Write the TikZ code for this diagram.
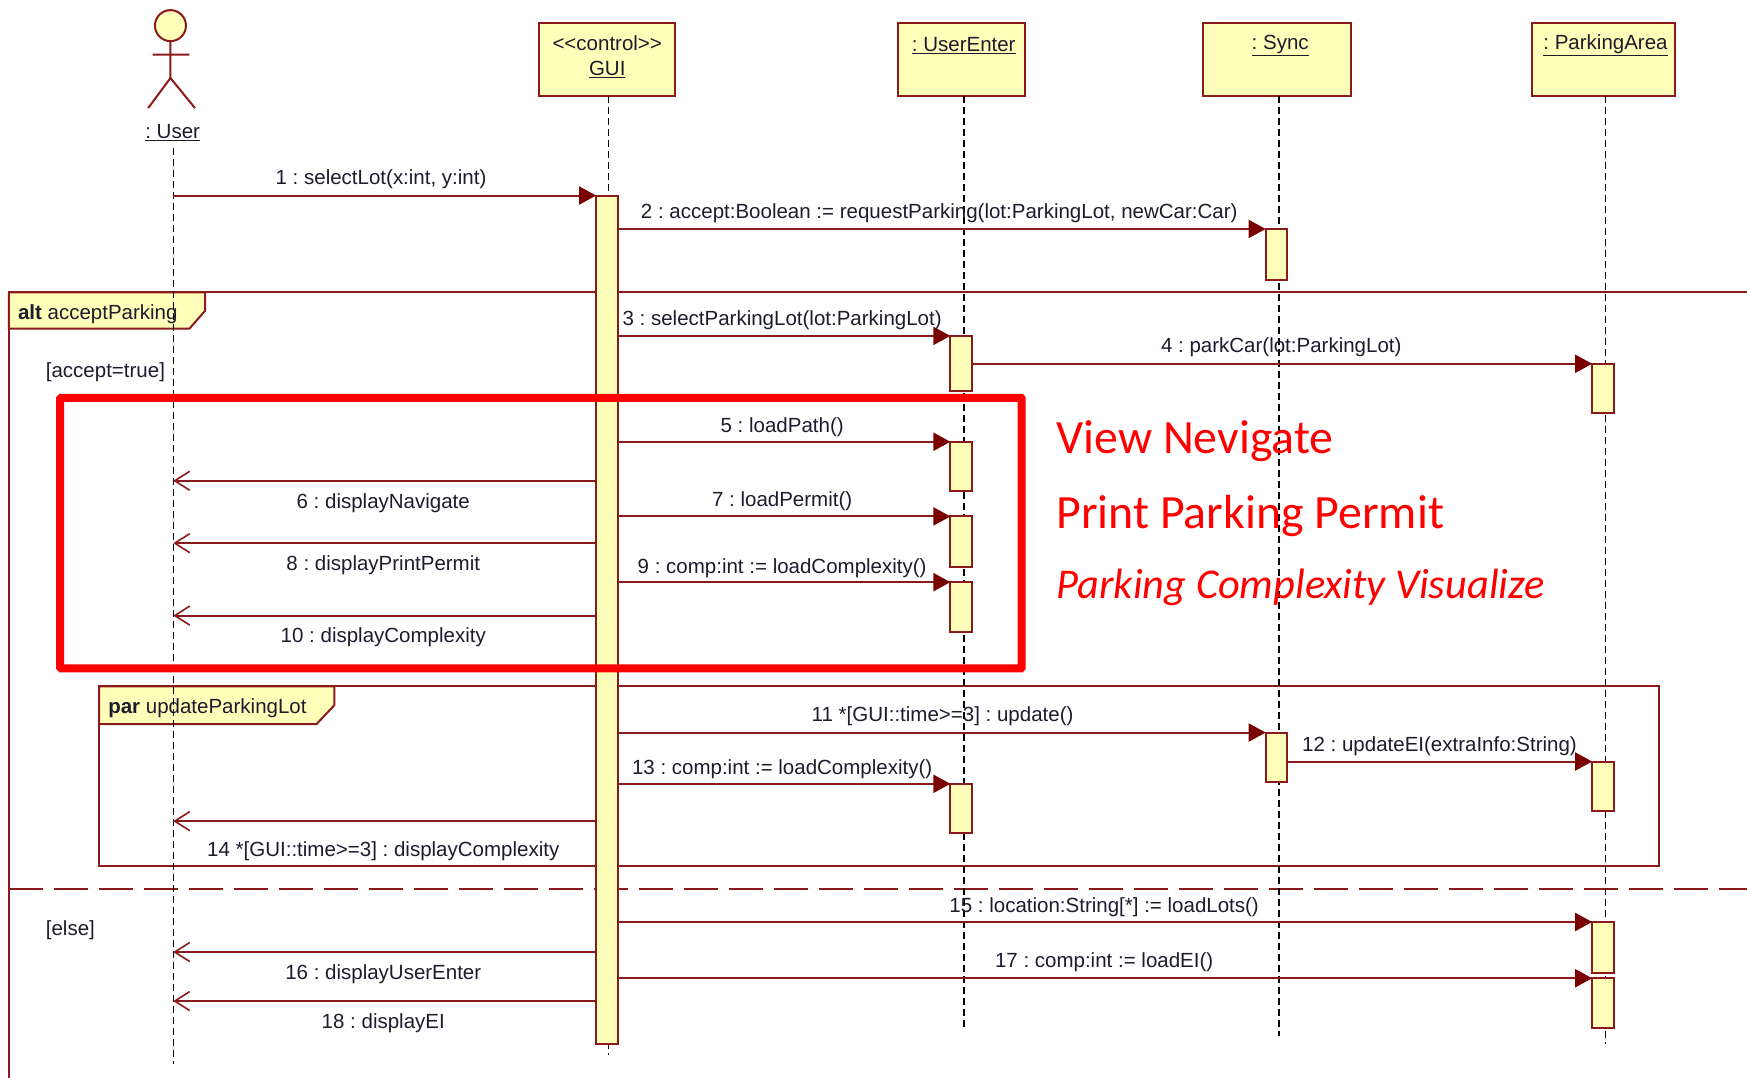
\documentclass[tikz,border=0pt]{standalone}
\usepackage{fontspec}
\setmainfont{Liberation Sans}
\newfontfamily\notefont{Carlito}
\usetikzlibrary{arrows.meta,positioning}
\frenchspacing
\definecolor{umlline}{HTML}{8B1A1A}
\definecolor{umltip}{HTML}{7A0000}
\definecolor{umlfill}{HTML}{FFFFB9}
\definecolor{umltext}{HTML}{1C1C2C}
\tikzset{umlfont/.style={font=\fontsize{20.5}{24}\selectfont,text=umltext}}
\tikzset{lifeline/.style={black,line width=1.5pt,dash pattern=on 7pt off 4pt}}
\tikzset{umlbox/.style={draw=umlline,fill=umlfill,line width=2pt,inner sep=0pt,outer sep=0pt,umlfont}}
\tikzset{actbox/.style={umlbox}}
\tikzset{frameline/.style={draw=umlline,line width=2pt}}
\tikzset{msg/.style={umlline,line width=2pt,-{Triangle[length=17pt,width=18pt,color=umltip]}}}
\tikzset{ret/.style={umlline,line width=2pt,-{Straight Barb[length=15pt,width=19pt,line width=1.6pt]}}}
\tikzset{msglabel/.style={umlfont,inner sep=0pt}}
\tikzset{notetext/.style={text=red,anchor=west,inner sep=0pt}}

\begin{document}
\begin{tikzpicture}[x=1.1142pt,y=-1.1142pt]
  \useasboundingbox (0,0) rectangle (1568,967.5);
  % alt and par frames
  \draw[frameline] (8,968) -- (8,262.5) -- (1568,262.5);
  \draw[frameline,fill=umlfill] (8,262.5) -- (184,262.5) -- (184,279) -- (170,295) -- (8,295) -- cycle;
  \draw[frameline,dash pattern=on 34pt off 11pt] (8,797.5) -- (1568,797.5);
  \draw[frameline] (89,616) rectangle (1489,777);
  \draw[frameline,fill=umlfill] (89,616) -- (300,616) -- (300,633) -- (284,650) -- (89,650) -- cycle;
  \node[msglabel,anchor=west] (altlabel) at (16,282) {\textbf{alt} acceptParking};
  \node[msglabel,anchor=west] (parlabel) at (97,636) {\textbf{par} updateParkingLot};
  \node[msglabel,anchor=west] (guardtrue) at (41,334) {[accept=true]};
  \node[msglabel,anchor=west] (guardelse) at (41,835) {[else]};
  % heads
  \foreach \nm/\xa/\xb in {gui/484/606,userenter/806/920,sync/1080/1213,parking/1375/1503}
    \node[umlbox,minimum height=72.4pt,minimum width={(\xb-\xa)*1.1142pt}] (\nm) at ({(\xa+\xb)/2},53.5) {};
  \node[msglabel,align=center] (guitext) at (545,51) {<{}<control>{}>\\[1pt]\underline{GUI}};
  \node[msglabel] (uetext) at (865,41) {\underline{: UserEnter}};
  \node[msglabel] (synctext) at (1149,41) {\underline{: Sync}};
  \node[msglabel] (patext) at (1441,41) {\underline{: ParkingArea}};
  % actor
  \node[circle,draw=umlline,fill=umlfill,line width=2pt,minimum size=31pt,inner sep=0pt] (head) at (153,23) {};
  \coordinate (hip) at (153,70);
  \coordinate (armL) at (137,49);
  \coordinate (armR) at (170,49);
  \coordinate (footL) at (133,97);
  \coordinate (footR) at (175,97);
  \draw[umlline,line width=2pt] (head.south) -- (hip) -- (footL) (hip) -- (footR) (armL) -- (armR);
  \node[msglabel] (usertext) at (155,119) {\underline{: User}};
  % lifelines
  \coordinate (userTop) at (155.5,133);
  \coordinate (userEnd) at (155.5,955);
  \draw[lifeline] (userTop) -- (userEnd);
  \foreach \nm/\x/\yend in {gui/546/947,userenter/865/925,sync/1148/930,parking/1441/937}
    \draw[lifeline] (\x,86) -- (\x,\yend);
  % activations
  \foreach \nm/\xa/\ya/\yb in {aG/535/175.5/937,aS1/1136/205.5/251,aU1/853/301.5/351,aP1/1429/326.5/371,
      aU2/853/396.5/441,aU3/853/463.5/509,aU4/853/522.5/567,aS2/1136/657.5/702,aP2/1429/683.5/728,
      aU5/853/703.5/748,aP3/1429/827.5/873,aP4/1429/878/923}
    \node[actbox,minimum width=21.5pt,minimum height={(\yb-\ya)*1.1142pt},anchor=north west] (\nm) at (\xa,\ya) {};
  % calls
  \draw[msg] (userTop |- aG.north west) -- (aG.north west);
  \node[msglabel] (t1) at (342,161) {1 : selectLot(x:int, y:int)};
  \foreach \src/\tgt/\lx/\ly/\txt in {aG/aS1/843/191/{2 : accept:Boolean := requestParking(lot:ParkingLot, newCar:Car)},
      aG/aU1/702/287/{3 : selectParkingLot(lot:ParkingLot)},
      aU1/aP1/1150/312/{4 : parkCar(lot:ParkingLot)},
      aG/aU2/702/383/{5 : loadPath()},
      aG/aU3/702/450/{7 : loadPermit()},
      aG/aU4/702/510/{9 : comp:int := loadComplexity()},
      aG/aS2/846/643/{11 *[GUI::time>=3] : update()},
      aS2/aP2/1292/670/{12 : updateEI(extraInfo:String)},
      aG/aU5/702/690/{13 : comp:int := loadComplexity()},
      aG/aP3/991/814/{15 : location:String[*] := loadLots()},
      aG/aP4/991/864/{17 : comp:int := loadEI()}}
    {
      \draw[msg] (\src.east |- \tgt.north) -- (\tgt.north west);
      \node[msglabel] (t\tgt) at (\lx,\ly) {\txt};
    }
  % returns
  \foreach \nm/\y/\ly/\txt in {r6/431.5/452/{6 : displayNavigate},
      r8/487.5/507/{8 : displayPrintPermit},
      r10/552.5/572/{10 : displayComplexity},
      r14/737/764/{14 *[GUI::time>=3] : displayComplexity},
      r16/854.5/874/{16 : displayUserEnter},
      r18/898.5/918/{18 : displayEI}}
    {
      \coordinate (\nm) at (155.5,\y);
      \draw[ret] (aG.west |- \nm) -- (\nm);
      \node[msglabel] (t\nm) at (344,\ly) {\txt};
    }
  % red notes
  \node[draw=red,line width=8pt,rounded corners=1pt,minimum width=961.5pt,minimum height=270.7pt,
    anchor=north west,inner sep=0pt,outer sep=0pt] (highlight) at (54,357) {};
  \node[notetext,font=\notefont\fontsize{47.8}{52}\selectfont] (nav) at (948,396) {View Nevigate};
  \node[notetext,font=\notefont\fontsize{47.8}{52}\selectfont] (permit) at (948,463) {Print Parking Permit};
  \node[notetext,font=\notefont\itshape\fontsize{42.4}{46}\selectfont] (visual) at (948,527) {Parking Complexity Visualize};
\end{tikzpicture}
\end{document}
